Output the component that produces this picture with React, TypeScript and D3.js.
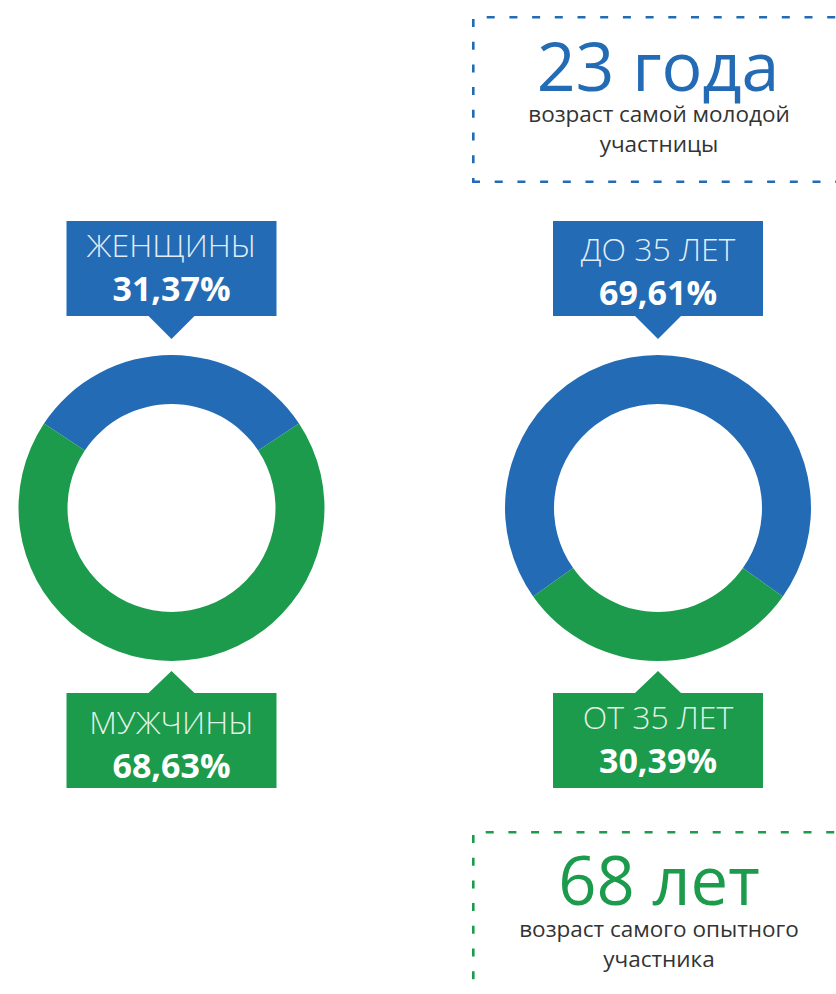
import React from "react";
import * as d3 from "d3";

// ---- data ----
const genderCategories = ["ЖЕНЩИНЫ", "МУЖЧИНЫ"];
const genderValues = [31.37, 68.63];
const ageCategories = ["ДО 35 ЛЕТ", "ОТ 35 ЛЕТ"];
const ageValues = [69.61, 30.39];
const factHeadlines = ["23 года", "68 лет"];
const factCaptions = [
  ["возраст самой молодой", "участницы"],
  ["возраст самого опытного", "участника"],
];

const BLUE = "#236cb5";
const GREEN = "#1c9b4c";
const FONT = "'Open Sans', 'Noto Sans', sans-serif";

const fmtPct = (v: number) => d3.format(".2f")(v).replace(".", ",") + "%";

const W = 836;
const H = 994;
const CY = 508;
const R_OUT = 153;
const R_IN = 104;

const panels = [
  { cats: genderCategories, vals: genderValues, cx: 171.5, topName: 257, topPct: 301, botName: 734, botPct: 778 },
  { cats: ageCategories, vals: ageValues, cx: 658, topName: 261, topPct: 305, botName: 729, botPct: 773 },
];

function Donut({ cx, vals }: { cx: number; vals: number[] }) {
  const total = d3.sum(vals);
  const start = -(vals[0] / total) * Math.PI;
  const pie = d3
    .pie<number>()
    .sort(null)
    .value((d) => d)
    .startAngle(start)
    .endAngle(start + 2 * Math.PI);
  const arc = d3.arc<d3.PieArcDatum<number>>().innerRadius(R_IN).outerRadius(R_OUT);
  const colors = [BLUE, GREEN];
  return (
    <g transform={`translate(${cx},${CY})`}>
      {pie(vals).map((d, i) => (
        <path key={i} d={arc(d) || ""} fill={colors[i]} />
      ))}
    </g>
  );
}

function Callout({
  cx, top, color, name, pct, nameY, pctY, pointerUp,
}: {
  cx: number; top: number; color: string; name: string; pct: string;
  nameY: number; pctY: number; pointerUp: boolean;
}) {
  const bw = 210;
  const bh = 95;
  const x0 = cx - bw / 2;
  const tri = pointerUp
    ? `M${cx - 23},${top} L${cx},${top - 22} L${cx + 23},${top} Z`
    : `M${cx - 24},${top + bh - 1} L${cx},${top + bh + 23} L${cx + 24},${top + bh - 1} Z`;
  return (
    <g>
      <rect x={x0} y={top} width={bw} height={bh} fill={color} />
      <path d={tri} fill={color} />
      <text x={cx} y={nameY} textAnchor="middle" fontFamily={FONT} fontWeight={300}
        fontSize={32} fill="#ffffff" fillOpacity={0.88}>{name}</text>
      <text x={cx} y={pctY} textAnchor="middle" fontFamily={FONT} fontWeight={700}
        fontSize={34} fill="#ffffff">{pct}</text>
    </g>
  );
}

function DashedLine({ x1, y1, x2, y2, color, offset }: any) {
  return (
    <line x1={x1} y1={y1} x2={x2} y2={y2} stroke={color} strokeWidth={2.6}
      strokeDasharray="8 14.7" strokeDashoffset={offset} />
  );
}

export default function App() {
  return (
    <svg width={W} height={H} viewBox={`0 0 ${W} ${H}`}
      style={{ position: "absolute", left: 0, top: 0, background: "#fff" }}>
      {/* top fact box */}
      <DashedLine x1={473} y1={17.3} x2={840} y2={17.3} color={BLUE} offset={9} />
      <DashedLine x1={473.3} y1={17} x2={473.3} y2={182} color={BLUE} offset={20.7} />
      <DashedLine x1={472} y1={181.7} x2={840} y2={181.7} color={BLUE} offset={0} />
      <text x={658} y={91} textAnchor="middle" fontFamily={FONT} fontSize={68} fill={BLUE}>
        {factHeadlines[0]}
      </text>
      <text x={659} y={122} textAnchor="middle" fontFamily={FONT} fontSize={22.5} fill="#333333">
        {factCaptions[0][0]}
      </text>
      <text x={659} y={152} textAnchor="middle" fontFamily={FONT} fontSize={22.5} fill="#333333">
        {factCaptions[0][1]}
      </text>

      {panels.map((p, i) => (
        <g key={i}>
          <Donut cx={p.cx} vals={p.vals} />
          <Callout cx={p.cx} top={221} color={BLUE} name={p.cats[0]} pct={fmtPct(p.vals[0])}
            nameY={p.topName} pctY={p.topPct} pointerUp={false} />
          <Callout cx={p.cx} top={693} color={GREEN} name={p.cats[1]} pct={fmtPct(p.vals[1])}
            nameY={p.botName} pctY={p.botPct} pointerUp={true} />
        </g>
      ))}

      {/* bottom fact box */}
      <DashedLine x1={473} y1={832.3} x2={840} y2={832.3} color={GREEN} offset={10} />
      <DashedLine x1={473.3} y1={832} x2={473.3} y2={1000} color={GREEN} offset={19.7} />
      <text x={659} y={905} textAnchor="middle" fontFamily={FONT} fontSize={67} fill={GREEN}>
        {factHeadlines[1]}
      </text>
      <text x={659} y={937} textAnchor="middle" fontFamily={FONT} fontSize={22.5} fill="#333333">
        {factCaptions[1][0]}
      </text>
      <text x={659} y={967} textAnchor="middle" fontFamily={FONT} fontSize={22.5} fill="#333333">
        {factCaptions[1][1]}
      </text>
    </svg>
  );
}
